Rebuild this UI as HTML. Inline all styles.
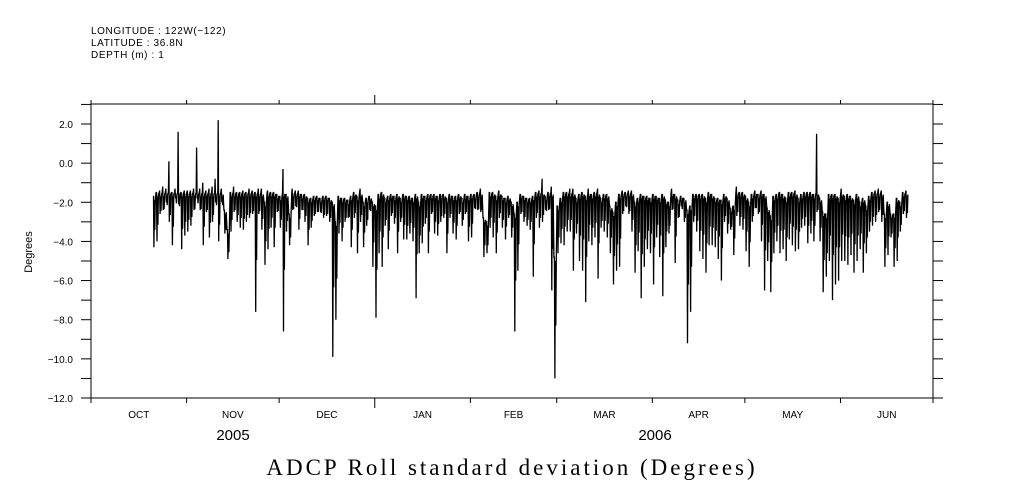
<!DOCTYPE html>
<html><head><meta charset="utf-8"><style>
body{margin:0;background:#fff;}
svg{display:block;font-family:"Liberation Sans",sans-serif;}
</style></head><body>
<svg id="chart" width="1009" height="504" viewBox="0 0 1009 504">
<g font-size="10" fill="#000" letter-spacing="0.6">
<text x="91" y="34">LONGITUDE : 122W(−122)</text>
<text x="91" y="46">LATITUDE : 36.8N</text>
<text x="91" y="58">DEPTH (m) : 1</text>
</g>
<text x="32" y="252" font-size="11" text-anchor="middle" transform="rotate(-90 32 252)">Degrees</text>
<text x="512" y="475" font-size="23" letter-spacing="3" text-anchor="middle" font-family="Liberation Serif, serif">ADCP Roll standard deviation (Degrees)</text>
<g id="axes"></g>
<g id="series"></g>
</svg>
<script>
const startDay = 20;
const hi = [-1.7,-1.5,-1.4,-1.2,-1.3,0.1,-1.5,-1.3,1.6,-1.5,-1.4,-1.4,-1.4,-1.3,0.8,-1.3,-1.0,-1.4,-1.3,-1.2,-0.8,2.2,-1.3,-2.4,-3.4,-1.5,-1.2,-1.5,-1.5,-1.4,-1.5,-1.3,-1.4,-1.5,-1.3,-1.3,-2.0,-1.4,-1.5,-1.5,-1.6,-1.7,-0.3,-1.6,-2.6,-1.3,-1.4,-1.4,-1.6,-1.6,-1.8,-1.8,-1.7,-1.7,-1.8,-1.7,-1.7,-1.8,-2.0,-3.0,-1.7,
-1.8,-1.8,-1.9,-1.7,-1.5,-1.7,-1.3,-2.0,-1.8,-1.7,-2.0,-2.2,-1.6,-1.5,-1.8,-1.7,-1.6,-1.7,-1.6,-1.8,-1.6,-1.7,-1.7,-1.8,-1.6,-2.0,-1.6,-1.7,-1.6,-1.6,-1.6,-1.7,-1.6,-1.6,-1.8,-1.6,-1.7,-1.7,-1.6,-1.8,-1.6,-1.7,-1.6,-1.6,-1.5,-1.3,-2.8,-3.0,-1.5,-1.5,-1.7,-1.4,-1.7,-1.8,-1.7,-2.0,-2.6,-2.0,-1.6,-1.7,-1.8,-1.8,
-1.7,-1.5,-1.4,-0.8,-1.7,-1.5,-1.2,-4.8,-2.2,-1.8,-1.5,-1.5,-1.3,-1.3,-1.8,-1.6,-1.5,-1.7,-1.3,-1.6,-1.5,-1.3,-1.8,-1.6,-1.6,-2.2,-2.5,-2.0,-1.6,-1.4,-1.5,-1.4,-1.4,-2.0,-1.8,-1.6,-1.7,-1.7,-1.8,-1.6,-1.7,-1.8,-1.6,-1.9,-2.0,-1.3,-1.6,-1.9,-1.7,-1.8,-2.4,-2.2,-1.6,-1.6,-1.6,-1.6,-1.8,-1.5,-1.6,-1.8,-1.8,
-1.9,-1.6,-1.8,-2.3,-2.2,-1.2,-1.5,-1.5,-1.7,-2.0,-1.6,-1.4,-1.6,-1.4,-1.6,-2.3,-2.7,-1.7,-1.6,-1.5,-1.6,-1.8,-1.5,-1.5,-1.4,-1.8,-1.6,-1.5,-1.5,-1.5,-1.6,1.5,-1.8,-2.5,-2.6,-1.6,-1.6,-1.6,-1.8,-1.3,-1.7,-1.6,-1.7,-1.9,-1.6,-2.0,-1.8,-2.2,-1.7,-1.5,-1.4,-1.3,-1.4,-2.6,-2.0,-2.6,-2.6,-1.8,-2.0,-1.5,-1.4];
const lo = [-4.3,-4.0,-2.6,-2.4,-2.0,-3.0,-4.2,-1.8,-2.1,-4.4,-3.7,-3.5,-3.2,-2.4,-1.8,-2.4,-4.2,-2.5,-3.8,-3.0,-2.0,-4.0,-2.0,-3.6,-4.9,-3.5,-2.5,-3.0,-3.3,-3.4,-3.0,-2.8,-2.6,-7.6,-2.6,-3.4,-5.2,-4.4,-3.3,-4.3,-2.5,-3.3,-8.6,-3.5,-4.2,-2.4,-2.2,-3.4,-2.4,-3.0,-4.2,-3.3,-2.7,-2.5,-2.5,-2.8,-2.7,-3.0,-9.9,-8.0,-3.6,
-4.0,-3.0,-2.8,-4.3,-2.8,-4.6,-3.0,-4.3,-3.2,-2.4,-5.3,-7.9,-4.6,-5.3,-3.2,-4.4,-2.7,-3.1,-4.6,-3.0,-3.9,-3.9,-3.6,-4.0,-6.9,-4.6,-4.1,-3.1,-4.6,-2.6,-3.6,-3.7,-3.0,-2.8,-4.6,-2.8,-3.6,-3.9,-2.6,-3.2,-2.6,-4.0,-3.8,-2.3,-2.4,-2.5,-4.8,-4.6,-3.3,-3.8,-4.6,-2.8,-3.3,-3.9,-2.8,-3.8,-8.6,-5.5,-2.6,-3.0,-3.2,-3.4,
-5.8,-2.8,-3.3,-3.0,-2.4,-2.4,-6.5,-11.0,-4.6,-4.1,-4.2,-3.5,-3.5,-5.5,-3.6,-5.0,-5.5,-7.1,-4.0,-4.2,-3.8,-5.9,-3.3,-3.5,-3.8,-4.6,-6.2,-5.5,-5.3,-2.6,-2.2,-2.6,-3.5,-5.6,-4.5,-6.9,-5.3,-4.4,-4.6,-6.2,-3.8,-4.8,-6.8,-4.3,-3.6,-2.4,-5.1,-2.8,-2.2,-3.0,-9.2,-7.6,-3.0,-3.5,-4.5,-4.9,-5.6,-4.2,-4.2,-4.3,-4.9,
-6.0,-3.0,-3.6,-3.4,-4.7,-2.7,-3.2,-3.4,-4.5,-5.3,-3.0,-2.3,-2.6,-4.0,-6.5,-5.0,-6.6,-4.6,-4.0,-4.6,-4.4,-5.0,-3.9,-4.2,-4.5,-4.4,-3.3,-3.2,-4.1,-3.6,-4.0,-2.5,-4.0,-6.6,-5.8,-5.0,-7.0,-6.2,-6.0,-5.0,-5.0,-5.2,-4.7,-5.6,-5.0,-4.4,-5.6,-4.6,-3.5,-3.2,-3.0,-2.5,-3.0,-5.3,-4.7,-3.8,-5.3,-5.0,-3.5,-2.6,-2.8];
const yTicks = [2,0,-2,-4,-6,-8,-10,-12];
const months = ["OCT","NOV","DEC","JAN","FEB","MAR","APR","MAY","JUN"];
const monthDays = [31,30,31,31,28,31,30,31,30];

const L=91,R=933,T=104,B=398, Y0=2,Y1=-12, totalDays=273;
const xs = d => L + (R-L)*d/totalDays;
const ys = v => 124 + (Y0-v)*(B-124)/(Y0-Y1);
const NS="http://www.w3.org/2000/svg";
const ax=document.getElementById('axes'), se=document.getElementById('series');
function mk(tag,attrs,parent){const e=document.createElementNS(NS,tag);for(const k in attrs)e.setAttribute(k,attrs[k]);parent.appendChild(e);return e;}

const frame = mk('rect',{x:L,y:T,width:R-L,height:B-T,fill:'none',stroke:'#000','stroke-width':1},ax);


for(let v=3;v>=-12;v--){
  const y=ys(v);
  if(y<T-0.5) continue;
  const t1=mk('line',{x1:L-10,x2:L,y1:y,y2:y,stroke:'#000'},ax);
  
  
  const t2=mk('line',{x1:R,x2:R+10,y1:y,y2:y,stroke:'#000'},ax);
  
  
}
yTicks.forEach(v=>{
  const t=mk('text',{x:L-18,y:ys(v)+4,'font-size':10,'text-anchor':'end'},ax);
  t.textContent=(v<0?'−':'')+Math.abs(v).toFixed(1);
  
  
});
let d=0;
const bounds=[0];
monthDays.forEach(n=>{d+=n;bounds.push(d);});
bounds.forEach((b,i)=>{
  const x=xs(b);
  const long = (i===3);
  const a=mk('line',{x1:x,x2:x,y1:T-(long?9:4),y2:T,stroke:'#000'},ax);
  
  
  const c=mk('line',{x1:x,x2:x,y1:B,y2:B+(long?10:5),stroke:'#000'},ax);
  
  
});
months.forEach((m,i)=>{
  const t=mk('text',{x:(xs(bounds[i])+xs(bounds[i+1]))/2,y:418,'font-size':10,'text-anchor':'middle'},ax);
  t.textContent=m;
  
  
});
[["2005",233],["2006",655]].forEach(p=>{
  const t=mk('text',{x:p[1],y:440,'font-size':15,'text-anchor':'middle'},ax);
  t.textContent=p[0];
  
  
});
let pts=[];
for(let i=0;i<hi.length;i++){
  const dd=startDay+i;
  const base=Math.min(hi[i],-1.5);
  pts.push(xs(dd+0.1).toFixed(1)+','+ys(base).toFixed(1));
  pts.push(xs(dd+0.25).toFixed(1)+','+ys(hi[i]).toFixed(1));
  pts.push(xs(dd+0.4).toFixed(1)+','+ys(lo[i]).toFixed(1));
  pts.push(xs(dd+0.55).toFixed(1)+','+ys(base-0.2).toFixed(1));
  pts.push(xs(dd+0.7).toFixed(1)+','+ys((base+lo[i])/2-0.4).toFixed(1));
  pts.push(xs(dd+0.85).toFixed(1)+','+ys(base-0.1).toFixed(1));
}
const line=mk('polyline',{points:pts.join(' '),fill:'none',stroke:'#000','stroke-width':1.3,'stroke-linejoin':'miter'},se);


</script>
</body></html>
